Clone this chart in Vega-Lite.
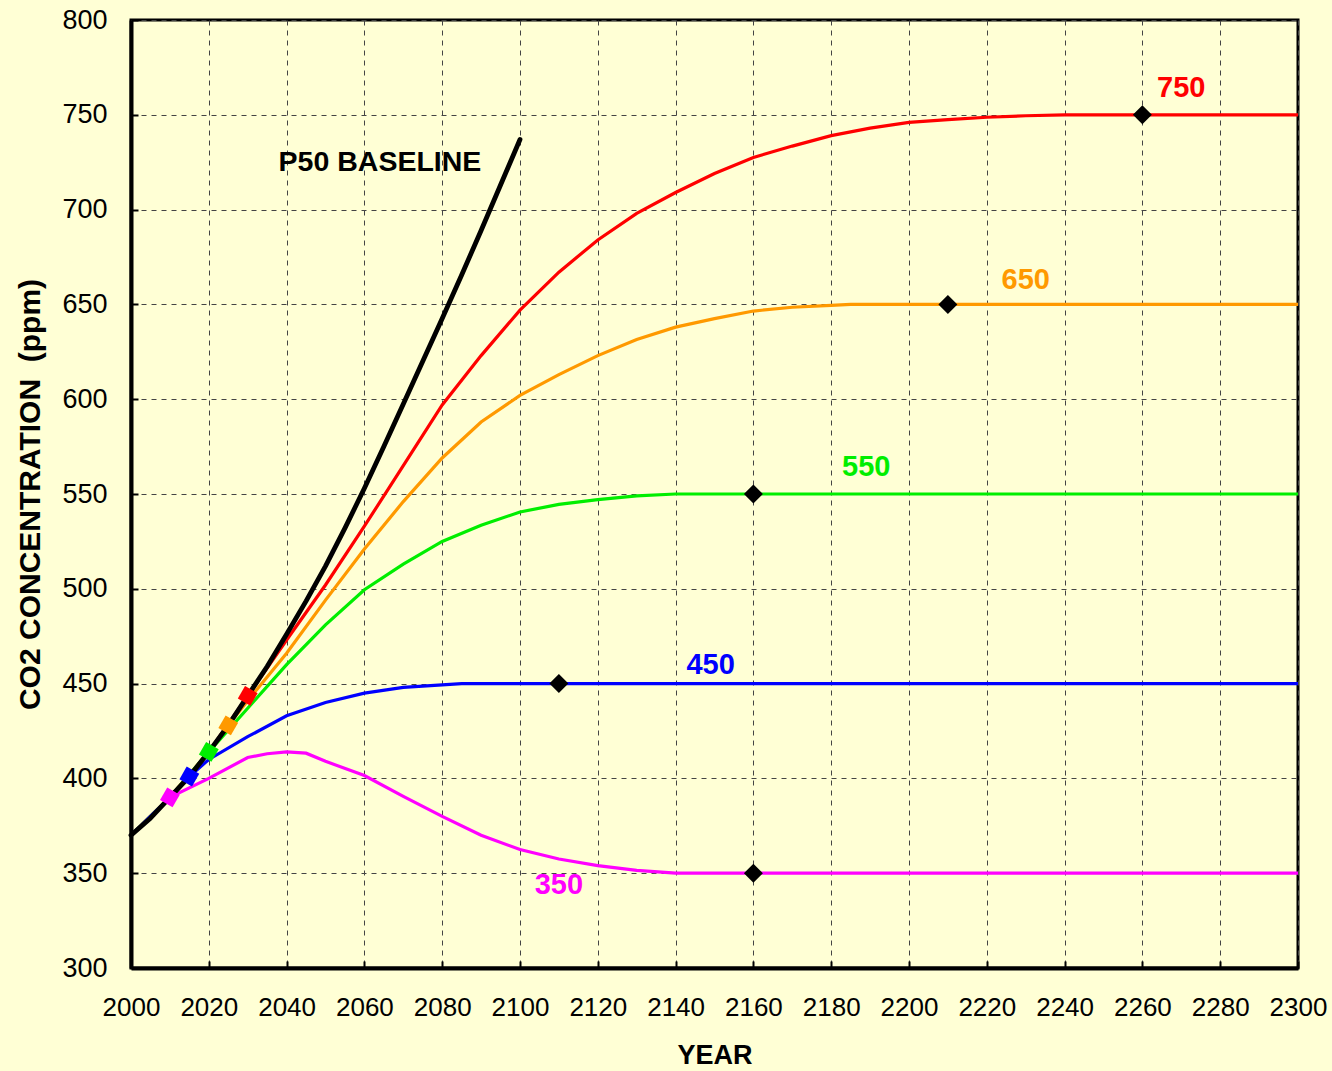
{
  "$schema": "https://vega.github.io/schema/vega-lite/v6.json",
  "width": 1167,
  "height": 948,
  "autosize": {"type": "none"},
  "padding": {"left": 131, "top": 20, "right": 34, "bottom": 103},
  "background": "#FFFFD5",
  "config": {
    "font": "Liberation Sans",
    "view": {"stroke": "black", "strokeWidth": 3, "fill": "#FFFFD5"},
    "axis": {
      "domainColor": "black",
      "domainWidth": 4,
      "tickColor": "black",
      "tickWidth": 2,
      "tickSize": -7,
      "grid": true,
      "gridColor": "#444444",
      "gridDash": [5, 5],
      "gridWidth": 1,
      "labelColor": "black",
      "titleColor": "black",
      "titleFontWeight": "bold",
      "labelFont": "Liberation Sans",
      "titleFont": "Liberation Sans"
    }
  },
  "datasets": {
    "curves": [
      {"series": "P50 BASELINE", "year": 2000, "ppm": 370},
      {"series": "P50 BASELINE", "year": 2005, "ppm": 379},
      {"series": "P50 BASELINE", "year": 2010, "ppm": 390},
      {"series": "P50 BASELINE", "year": 2015, "ppm": 401},
      {"series": "P50 BASELINE", "year": 2020, "ppm": 414},
      {"series": "P50 BASELINE", "year": 2025, "ppm": 428},
      {"series": "P50 BASELINE", "year": 2030, "ppm": 443.5},
      {"series": "P50 BASELINE", "year": 2035, "ppm": 459},
      {"series": "P50 BASELINE", "year": 2040, "ppm": 476},
      {"series": "P50 BASELINE", "year": 2045, "ppm": 493.5},
      {"series": "P50 BASELINE", "year": 2050, "ppm": 512},
      {"series": "P50 BASELINE", "year": 2055, "ppm": 532},
      {"series": "P50 BASELINE", "year": 2060, "ppm": 553},
      {"series": "P50 BASELINE", "year": 2065, "ppm": 575},
      {"series": "P50 BASELINE", "year": 2070, "ppm": 597.5},
      {"series": "P50 BASELINE", "year": 2075, "ppm": 620},
      {"series": "P50 BASELINE", "year": 2080, "ppm": 642.5},
      {"series": "P50 BASELINE", "year": 2085, "ppm": 665.5},
      {"series": "P50 BASELINE", "year": 2090, "ppm": 689},
      {"series": "P50 BASELINE", "year": 2095, "ppm": 713},
      {"series": "P50 BASELINE", "year": 2100, "ppm": 737},

      {"series": "750", "year": 2000, "ppm": 370},
      {"series": "750", "year": 2010, "ppm": 390},
      {"series": "750", "year": 2020, "ppm": 414},
      {"series": "750", "year": 2030, "ppm": 443.5},
      {"series": "750", "year": 2040, "ppm": 473},
      {"series": "750", "year": 2050, "ppm": 502},
      {"series": "750", "year": 2060, "ppm": 533},
      {"series": "750", "year": 2070, "ppm": 565},
      {"series": "750", "year": 2080, "ppm": 597},
      {"series": "750", "year": 2090, "ppm": 623},
      {"series": "750", "year": 2100, "ppm": 647},
      {"series": "750", "year": 2110, "ppm": 667},
      {"series": "750", "year": 2120, "ppm": 684},
      {"series": "750", "year": 2130, "ppm": 698},
      {"series": "750", "year": 2140, "ppm": 709},
      {"series": "750", "year": 2150, "ppm": 719},
      {"series": "750", "year": 2160, "ppm": 727.5},
      {"series": "750", "year": 2170, "ppm": 733.5},
      {"series": "750", "year": 2180, "ppm": 739},
      {"series": "750", "year": 2190, "ppm": 743},
      {"series": "750", "year": 2200, "ppm": 746},
      {"series": "750", "year": 2210, "ppm": 747.5},
      {"series": "750", "year": 2220, "ppm": 748.7},
      {"series": "750", "year": 2230, "ppm": 749.5},
      {"series": "750", "year": 2240, "ppm": 750},
      {"series": "750", "year": 2300, "ppm": 750},

      {"series": "650", "year": 2000, "ppm": 370},
      {"series": "650", "year": 2010, "ppm": 390},
      {"series": "650", "year": 2020, "ppm": 414},
      {"series": "650", "year": 2025, "ppm": 428},
      {"series": "650", "year": 2030, "ppm": 441},
      {"series": "650", "year": 2040, "ppm": 466},
      {"series": "650", "year": 2050, "ppm": 494},
      {"series": "650", "year": 2060, "ppm": 521},
      {"series": "650", "year": 2070, "ppm": 546},
      {"series": "650", "year": 2080, "ppm": 569},
      {"series": "650", "year": 2090, "ppm": 588},
      {"series": "650", "year": 2100, "ppm": 602},
      {"series": "650", "year": 2110, "ppm": 613},
      {"series": "650", "year": 2120, "ppm": 623},
      {"series": "650", "year": 2130, "ppm": 631.5},
      {"series": "650", "year": 2140, "ppm": 638},
      {"series": "650", "year": 2150, "ppm": 642.5},
      {"series": "650", "year": 2160, "ppm": 646.5},
      {"series": "650", "year": 2170, "ppm": 648.5},
      {"series": "650", "year": 2180, "ppm": 649.5},
      {"series": "650", "year": 2185, "ppm": 650},
      {"series": "650", "year": 2300, "ppm": 650},

      {"series": "550", "year": 2000, "ppm": 370},
      {"series": "550", "year": 2010, "ppm": 390},
      {"series": "550", "year": 2020, "ppm": 414},
      {"series": "550", "year": 2030, "ppm": 437},
      {"series": "550", "year": 2040, "ppm": 460},
      {"series": "550", "year": 2050, "ppm": 481},
      {"series": "550", "year": 2060, "ppm": 499.5},
      {"series": "550", "year": 2070, "ppm": 513},
      {"series": "550", "year": 2080, "ppm": 525},
      {"series": "550", "year": 2090, "ppm": 533.5},
      {"series": "550", "year": 2100, "ppm": 540.5},
      {"series": "550", "year": 2110, "ppm": 544.5},
      {"series": "550", "year": 2120, "ppm": 547},
      {"series": "550", "year": 2130, "ppm": 549},
      {"series": "550", "year": 2140, "ppm": 550},
      {"series": "550", "year": 2300, "ppm": 550},

      {"series": "450", "year": 2000, "ppm": 370},
      {"series": "450", "year": 2010, "ppm": 390},
      {"series": "450", "year": 2015, "ppm": 401},
      {"series": "450", "year": 2020, "ppm": 410},
      {"series": "450", "year": 2030, "ppm": 422},
      {"series": "450", "year": 2040, "ppm": 433},
      {"series": "450", "year": 2050, "ppm": 440},
      {"series": "450", "year": 2060, "ppm": 445},
      {"series": "450", "year": 2070, "ppm": 448},
      {"series": "450", "year": 2080, "ppm": 449.3},
      {"series": "450", "year": 2085, "ppm": 450},
      {"series": "450", "year": 2300, "ppm": 450},

      {"series": "350", "year": 2000, "ppm": 370},
      {"series": "350", "year": 2005, "ppm": 379},
      {"series": "350", "year": 2010, "ppm": 390},
      {"series": "350", "year": 2020, "ppm": 400},
      {"series": "350", "year": 2030, "ppm": 411},
      {"series": "350", "year": 2035, "ppm": 413},
      {"series": "350", "year": 2040, "ppm": 414},
      {"series": "350", "year": 2045, "ppm": 413.3},
      {"series": "350", "year": 2050, "ppm": 409},
      {"series": "350", "year": 2060, "ppm": 401.5},
      {"series": "350", "year": 2070, "ppm": 390.5},
      {"series": "350", "year": 2080, "ppm": 380},
      {"series": "350", "year": 2090, "ppm": 370},
      {"series": "350", "year": 2100, "ppm": 362.5},
      {"series": "350", "year": 2110, "ppm": 357.5},
      {"series": "350", "year": 2120, "ppm": 354},
      {"series": "350", "year": 2130, "ppm": 351.5},
      {"series": "350", "year": 2140, "ppm": 350},
      {"series": "350", "year": 2300, "ppm": 350}
    ],
    "departures": [
      {"series": "350", "year": 2010, "ppm": 390},
      {"series": "450", "year": 2015, "ppm": 401},
      {"series": "550", "year": 2020, "ppm": 414},
      {"series": "650", "year": 2025, "ppm": 428},
      {"series": "750", "year": 2030, "ppm": 443.5}
    ],
    "stabilised": [
      {"series": "450", "year": 2110, "ppm": 450},
      {"series": "550", "year": 2160, "ppm": 550},
      {"series": "350", "year": 2160, "ppm": 350},
      {"series": "650", "year": 2210, "ppm": 650},
      {"series": "750", "year": 2260, "ppm": 750}
    ],
    "levelLabels": [
      {"series": "750", "level": 750, "year": 2270, "ppm": 764},
      {"series": "650", "level": 650, "year": 2230, "ppm": 663},
      {"series": "550", "level": 550, "year": 2189, "ppm": 564},
      {"series": "450", "level": 450, "year": 2149, "ppm": 460},
      {"series": "350", "level": 350, "year": 2110, "ppm": 344}
    ],
    "baselineLabel": [
      {"series": "P50 BASELINE", "year": 2064, "ppm": 725}
    ]
  },
  "encoding": {
    "x": {
      "field": "year",
      "type": "quantitative",
      "scale": {"domain": [2000, 2300], "nice": false, "zero": false},
      "axis": {
        "values": [2000, 2020, 2040, 2060, 2080, 2100, 2120, 2140, 2160, 2180, 2200, 2220, 2240, 2260, 2280, 2300],
        "format": "d",
        "labelFontSize": 26,
        "labelPadding": 33,
        "labelFlush": false,
        "labelOverlap": false,
        "title": "YEAR",
        "titleFontSize": 27,
        "titlePadding": 22
      }
    },
    "y": {
      "field": "ppm",
      "type": "quantitative",
      "scale": {"domain": [300, 800], "nice": false, "zero": false},
      "axis": {
        "values": [300, 350, 400, 450, 500, 550, 600, 650, 700, 750, 800],
        "labelFontSize": 27,
        "labelPadding": 31,
        "labelFlush": false,
        "labelOverlap": false,
        "title": "CO2 CONCENTRATION \u00a0(ppm)",
        "titleFontSize": 30,
        "titlePadding": 16
      }
    },
    "color": {
      "field": "series",
      "type": "nominal",
      "legend": null,
      "scale": {
        "domain": ["P50 BASELINE", "750", "650", "550", "450", "350"],
        "range": ["#000000", "#FF0000", "#FF9900", "#00EE00", "#0000FF", "#FF00FF"]
      }
    }
  },
  "layer": [
    {
      "data": {"name": "curves"},
      "transform": [{"filter": "datum.series !== 'P50 BASELINE'"}],
      "mark": {"type": "line", "strokeWidth": 3.2, "clip": true},
      "encoding": {"detail": {"field": "series"}}
    },
    {
      "data": {"name": "curves"},
      "transform": [{"filter": "datum.series === 'P50 BASELINE'"}],
      "mark": {"type": "line", "strokeWidth": 4.8, "strokeCap": "round", "strokeJoin": "round"},
      "encoding": {}
    },
    {
      "data": {"name": "departures"},
      "mark": {"type": "point", "shape": "square", "filled": true, "opacity": 1, "size": 210, "angle": 30, "strokeWidth": 0},
      "encoding": {
        "color": {
          "field": "series",
          "type": "nominal",
          "legend": null,
          "scale": {
            "domain": ["750", "650", "550", "450", "350"],
            "range": ["#FF0000", "#FFCC00", "#00FF00", "#0000FF", "#FF00FF"]
          }
        }
      }
    },
    {
      "data": {"name": "stabilised"},
      "mark": {"type": "point", "shape": "diamond", "filled": true, "opacity": 1, "size": 360},
      "encoding": {"color": {"value": "black"}}
    },
    {
      "data": {"name": "levelLabels"},
      "mark": {"type": "text", "font": "Liberation Sans", "fontWeight": "bold", "fontSize": 29, "align": "center", "baseline": "middle"},
      "encoding": {"text": {"field": "level", "type": "quantitative", "format": "d"}}
    },
    {
      "data": {"name": "baselineLabel"},
      "mark": {"type": "text", "font": "Liberation Sans", "fontWeight": "bold", "fontSize": 28.5, "align": "center", "baseline": "middle"},
      "encoding": {"text": {"field": "series"}}
    }
  ]
}
